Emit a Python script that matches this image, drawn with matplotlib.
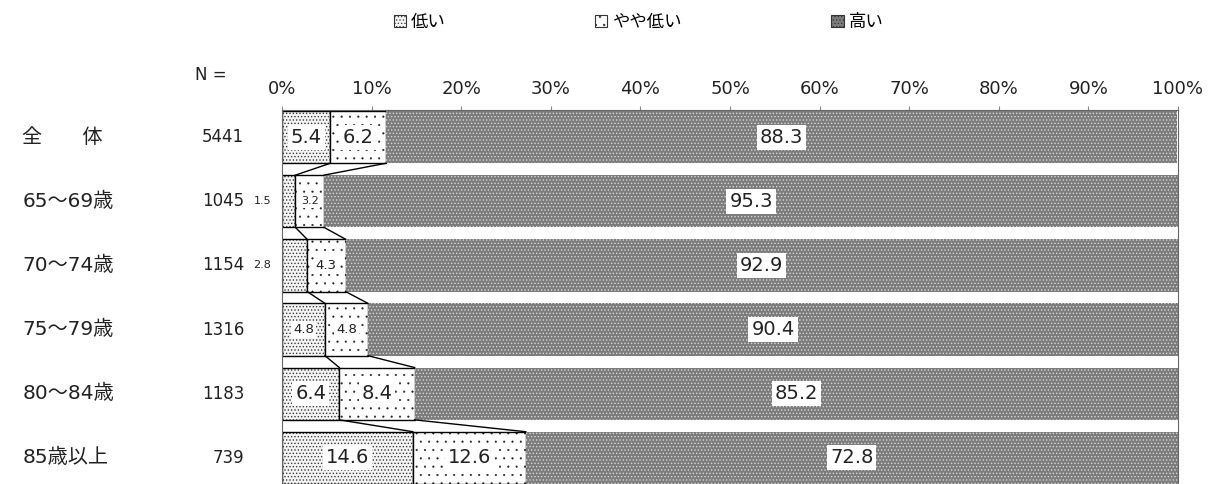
import matplotlib.pyplot as plt
from matplotlib.patches import Patch

plt.rcParams['font.family'] = ['DejaVu Sans', 'Noto Sans CJK JP']

# data
groups = ['全　　体', '65〜69歳', '70〜74歳', '75〜79歳', '80〜84歳', '85歳以上']
n_vals = [5441, 1045, 1154, 1316, 1183, 739]
low = [5.4, 1.5, 2.8, 4.8, 6.4, 14.6]
mid_low = [6.2, 3.2, 4.3, 4.8, 8.4, 12.6]
high = [88.3, 95.3, 92.9, 90.4, 85.2, 72.8]
series_names = ['低い', 'やや低い', '高い']
ticks = [0, 10, 20, 30, 40, 50, 60, 70, 80, 90, 100]

fig = plt.figure(figsize=(12.12, 4.84), dpi=100)
ax = fig.add_axes([282 / 1212, 0.0, (1178 - 282) / 1212, 1 - 110 / 484])

h = 0.815
ys = list(range(len(groups)))
styles = [
    dict(face='#f4f4f4', hatch='.....', hcol='#3a3a3a', hlw=0.6),
    dict(face='white', hatch='..', hcol='#222222', hlw=0.3),
    dict(face='#7c7c7c', hatch='.....', hcol='#d6d6d6', hlw=0.6),
]

lefts = [0] * len(groups)
for k, vals in enumerate([low, mid_low, high]):
    st = styles[k]
    plt.rcParams['hatch.linewidth'] = st['hlw']
    ax.barh(ys, vals, left=lefts, height=h, color=st['face'],
            hatch=st['hatch'], edgecolor=st['hcol'], linewidth=0)
    if k < 2:
        ax.barh(ys, vals, left=lefts, height=h, fill=False,
                edgecolor='black', linewidth=1.0)
    for i, v in enumerate(vals):
        cx = lefts[i] + v / 2
        if v < 3:
            ax.text(-1.2, ys[i], f'{v:.1f}', ha='right', va='center',
                    fontsize=8, color='#222222', clip_on=False)
            continue
        fs = 14 if v >= 5.4 else (8 if v < 4 else 9.5)
        ax.text(cx, ys[i], f'{v:.1f}', ha='center', va='center',
                fontsize=fs, color='#222222',
                bbox=dict(boxstyle='square,pad=0.15', fc='white', ec='none'))
    lefts = [lefts[i] + vals[i] for i in range(len(groups))]

# connector lines between rows
cum1 = low
cum2 = [low[i] + mid_low[i] for i in range(len(groups))]
for i in range(len(groups) - 1):
    for c in (cum1, cum2):
        ax.plot([c[i], c[i + 1]], [ys[i] + h / 2, ys[i + 1] - h / 2],
                color='black', linewidth=1.0)

ax.set_xlim(0, 100)
ax.set_ylim(5 + h / 2, -h / 2 - 0.015)
ax.xaxis.tick_top()
ax.set_xticks(ticks)
ax.set_xticklabels([f'{t}%' for t in ticks], fontsize=13, color='#222222')
ax.tick_params(axis='x', length=3, color='#888888', pad=6)
ax.set_yticks([])
for s in ['top', 'left', 'right']:
    ax.spines[s].set_color('#666666')
ax.spines['bottom'].set_visible(False)

# row labels and N
for i, g in enumerate(groups):
    ax.text(-0.29, ys[i], g, transform=ax.get_yaxis_transform(), ha='left',
            va='center', fontsize=14.5, color='#222222')
    ax.text(-0.042, ys[i], str(n_vals[i]), transform=ax.get_yaxis_transform(),
            ha='right', va='center', fontsize=12, color='#222222')
fig.text(195 / 1212, 1 - 75 / 484, 'N =', ha='left', va='center',
         fontsize=12, color='#222222')

plt.rcParams['hatch.linewidth'] = 0.5
handles = [Patch(facecolor=st['face'], hatch=st['hatch'], edgecolor='#333333',
                 linewidth=0.8) for st in styles]
fig.legend(handles, series_names, loc='center', bbox_to_anchor=(0.527, 1 - 22 / 484),
           ncol=3, frameon=False, fontsize=12.5, handlelength=0.7, handleheight=0.7,
           handletextpad=0.3, columnspacing=8.6)

fig.savefig('out.png', dpi=100)
